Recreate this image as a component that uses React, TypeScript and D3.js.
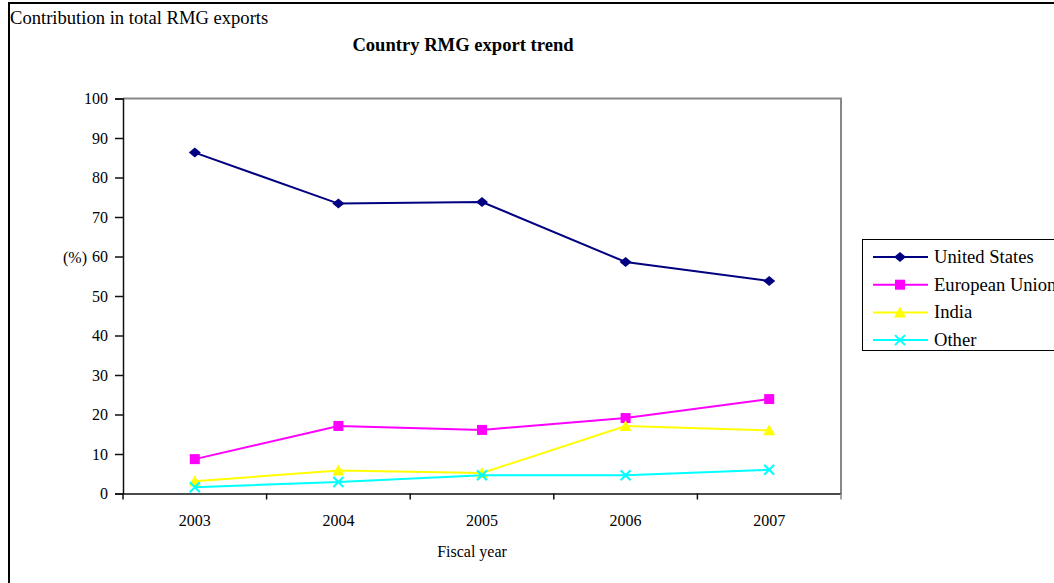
import { useEffect, useRef } from 'react';
import * as d3 from 'd3';

const years = ['2003', '2004', '2005', '2006', '2007'];
const unitedStates = [86.3, 73.4, 73.8, 58.6, 53.8];
const europeanUnion = [8.7, 17.1, 16.1, 19.1, 23.9];
const india = [3.1, 5.8, 5.2, 17.1, 16.0];
const other = [1.6, 2.9, 4.6, 4.6, 6.0];
const yTicks = [0, 10, 20, 30, 40, 50, 60, 70, 80, 90, 100];

const seriesNames = ['United States', 'European Union', 'India', 'Other'];
const seriesColors = ['#000080', '#ff00ff', '#ffff00', '#00ffff'];
const seriesMarkers = ['diamond', 'square', 'triangle', 'cross'];

const FONT = '"Liberation Serif", "Times New Roman", serif';

function drawMarker(g: any, kind: string, cx: number, cy: number, color: string) {
    if (kind === 'diamond') {
        g.append('path')
            .attr('d', `M${cx},${cy - 5}L${cx + 6},${cy}L${cx},${cy + 5}L${cx - 6},${cy}Z`)
            .attr('fill', color);
    } else if (kind === 'square') {
        g.append('rect')
            .attr('x', cx - 5).attr('y', cy - 5)
            .attr('width', 10).attr('height', 10)
            .attr('fill', color);
    } else if (kind === 'triangle') {
        g.append('path')
            .attr('d', `M${cx},${cy - 6}L${cx + 6},${cy + 5}L${cx - 6},${cy + 5}Z`)
            .attr('fill', color);
    } else {
        g.append('path')
            .attr('d', `M${cx - 5},${cy - 5}L${cx + 5},${cy + 5}M${cx + 5},${cy - 5}L${cx - 5},${cy + 5}`)
            .attr('stroke', color)
            .attr('stroke-width', 2);
    }
}

function App() {
    const chartRef = useRef(null);

    useEffect(() => {
        const svg = d3.select(chartRef.current);
        svg.selectAll('*').remove();

        const series = [unitedStates, europeanUnion, india, other];

        // outer frame
        svg.append('rect')
            .attr('x', 9).attr('y', 3)
            .attr('width', 1100).attr('height', 640)
            .attr('fill', 'white')
            .attr('stroke', '#000')
            .attr('stroke-width', 2);

        svg.append('text')
            .attr('x', 10).attr('y', 24)
            .attr('font-family', FONT).attr('font-size', 18.6)
            .text('Contribution in total RMG exports');

        svg.append('text')
            .attr('x', 463).attr('y', 51)
            .attr('text-anchor', 'middle')
            .attr('font-family', FONT).attr('font-size', 18.6)
            .attr('font-weight', 'bold')
            .text('Country RMG export trend');

        const left = 123, right = 841, top = 98.5, bottom = 493.5;

        const x = d3.scaleBand().domain(years).range([left, right]);
        const y = d3.scaleLinear().domain([0, 100]).range([bottom, top]);

        // plot area border (top & right gray)
        svg.append('path')
            .attr('d', `M${left},${top}H${right}V${bottom}`)
            .attr('fill', 'none')
            .attr('stroke', '#888')
            .attr('stroke-width', 2);

        // y axis
        const yAxis = svg.append('g')
            .attr('transform', `translate(${left},0)`)
            .call(d3.axisLeft(y).tickValues(yTicks).tickSize(8).tickPadding(7))
            .attr('font-family', FONT)
            .attr('font-size', 16);
        yAxis.select('.domain').attr('stroke', '#111').attr('stroke-width', 1.5);
        yAxis.selectAll('.tick line').attr('stroke', '#111').attr('stroke-width', 1.5);
        yAxis.selectAll('text').attr('fill', '#000');

        // x axis
        const xAxis = svg.append('g')
            .attr('transform', `translate(0,${bottom})`)
            .call(d3.axisBottom(x).tickSize(0).tickPadding(21))
            .attr('font-family', FONT)
            .attr('font-size', 16);
        xAxis.select('.domain').attr('stroke', '#111').attr('stroke-width', 1.5);
        xAxis.selectAll('text').attr('fill', '#000');
        const bounds = years.map((d) => x(d) as number).concat([right]);
        xAxis.selectAll('.bound')
            .data(bounds)
            .enter()
            .append('line')
            .attr('x1', (d) => d).attr('x2', (d) => d)
            .attr('y1', 0).attr('y2', 6)
            .attr('stroke', (d, i) => (i === bounds.length - 1 ? '#888' : '#111'))
            .attr('stroke-width', 1.5);

        svg.append('text')
            .attr('x', 472).attr('y', 557)
            .attr('text-anchor', 'middle')
            .attr('font-family', FONT).attr('font-size', 16)
            .text('Fiscal year');

        svg.append('text')
            .attr('x', 63).attr('y', 263)
            .attr('font-family', FONT).attr('font-size', 16)
            .text('(%)');

        const cx = (d: string) => (x(d) as number) + x.bandwidth() / 2;
        const line = d3.line<number>()
            .x((d, i) => cx(years[i]))
            .y((d) => y(d));

        series.forEach((vals, si) => {
            const g = svg.append('g');
            g.append('path')
                .attr('d', line(vals) as string)
                .attr('fill', 'none')
                .attr('stroke', seriesColors[si])
                .attr('stroke-width', 2);
            vals.forEach((v, i) => drawMarker(g, seriesMarkers[si], cx(years[i]), y(v), seriesColors[si]));
        });

        // legend
        const legend = svg.append('g');
        legend.append('rect')
            .attr('x', 862.5).attr('y', 239.5)
            .attr('width', 300).attr('height', 111)
            .attr('fill', 'white')
            .attr('stroke', '#000')
            .attr('stroke-width', 1);
        seriesNames.forEach((name, i) => {
            const ly = 257 + i * 27.7;
            legend.append('line')
                .attr('x1', 873).attr('x2', 928)
                .attr('y1', ly).attr('y2', ly)
                .attr('stroke', seriesColors[i])
                .attr('stroke-width', 2);
            drawMarker(legend, seriesMarkers[i], 900, ly, seriesColors[i]);
            legend.append('text')
                .attr('x', 934).attr('y', ly + 6)
                .attr('font-family', FONT).attr('font-size', 18.6)
                .text(name);
        });
    }, []);

    return (
        <svg
            ref={chartRef}
            width="1054"
            height="583"
            style={{ position: 'absolute', left: 0, top: 0 }}
        ></svg>
    );
}

export default App;
